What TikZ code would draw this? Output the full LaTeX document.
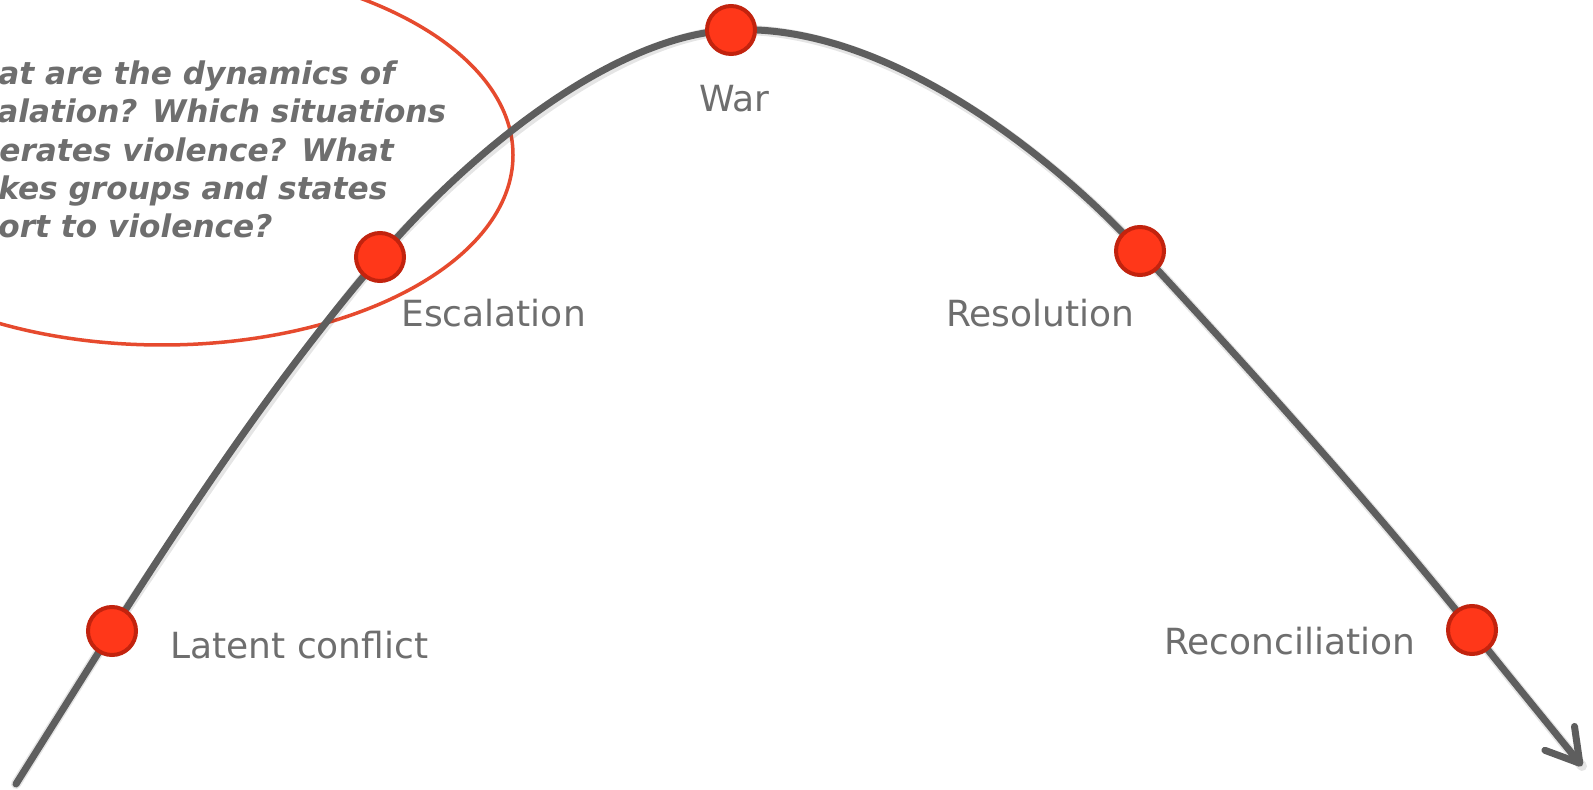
\documentclass[tikz,border=0pt]{standalone}
\usepackage{fontspec}
\setmainfont{DejaVu Sans}[BoldFont={DejaVu Sans Bold},ItalicFont={DejaVu Sans Oblique},BoldItalicFont={DejaVu Sans Bold Oblique}]
\usetikzlibrary{arrows.meta}
\definecolor{curvegray}{HTML}{5E5E5E}
\definecolor{txtgray}{HTML}{6E6E6E}
\definecolor{dotfill}{HTML}{FF3719}
\definecolor{dotedge}{HTML}{C2230E}
\definecolor{ellred}{HTML}{E64A2E}
\newcommand\stagearc{(s0) -- (pLat)
  .. controls (194,502) and (280.5,373) .. (pEsc)
  .. controls (468,154) and (611,36) .. (pWar)
  .. controls (881,22.5) and (1044.8,148.2) .. (pRes)
  .. controls (1248.8,368.4) and (1372,505) .. (pRec)
  .. controls (1503,669) and (1550.5,727) .. (tip)}
\begin{document}
\begin{tikzpicture}[x=0.5pt,y=-0.5pt,
  dot/.style={circle,fill=dotfill,draw=dotedge,line width=2pt,minimum size=24pt,inner sep=0pt},
  lbl/.style={anchor=base west,text=txtgray,font=\fontsize{18}{20}\selectfont,inner sep=0pt},
  qline/.style={anchor=base west,text=txtgray,font=\fontsize{15.6}{18}\selectfont\bfseries\itshape,inner sep=0pt},
  curve/.style={draw=curvegray,line width=3.5pt,line cap=round,line join=round},
  curveshadow/.style={draw=black,opacity=0.10,line width=5pt,line cap=round,line join=round},
  ring/.style={draw=ellred,line width=1.75pt}]
\clip (0,0) rectangle (1593,790);
\fill[white] (0,0) rectangle (1593,790);
% question ring
\draw[ring] (162,155) ellipse [x radius=351, y radius=190];
% points on the curve
\coordinate (s0) at (16,784);
\coordinate (pLat) at (112,631);
\coordinate (pEsc) at (380,257);
\coordinate (pWar) at (731,30);
\coordinate (pRes) at (1140,251);
\coordinate (pRec) at (1472,630);
\coordinate (tip) at (1582,766);
\begin{scope}[shift={(2,3)}]
\draw[curveshadow] \stagearc;
\end{scope}
\draw[curve,-{Straight Barb[length=16pt,width=19pt,round]}] \stagearc;
% stage dots
\node[dot] (latent) at (pLat) {};
\node[dot] (escal) at (pEsc) {};
\node[dot] (war) at (pWar) {};
\node[dot] (resol) at (pRes) {};
\node[dot] (recon) at (pRec) {};
% stage labels
\node[lbl] (tLat) at (170,658) {Latent conflict};
\node[lbl] (tEsc) at (401,327) {Escalation};
\node[lbl] (tWar) at (699,112) {War};
\node[lbl] (tRes) at (946,327) {Resolution};
\node[lbl] (tRec) at (1164,654) {Reconciliation};
% question text
\node[qline] (q1) at (-2,85) {at are the dynamics of};
\node[qline] (q2) at (-3,123) {alation? Which situations};
\node[qline] (q3) at (-1,162) {erates violence? What};
\node[qline] (q4) at (-2,200) {kes groups and states};
\node[qline] (q5) at (-2,238) {ort to violence?};
\end{tikzpicture}
\end{document}
